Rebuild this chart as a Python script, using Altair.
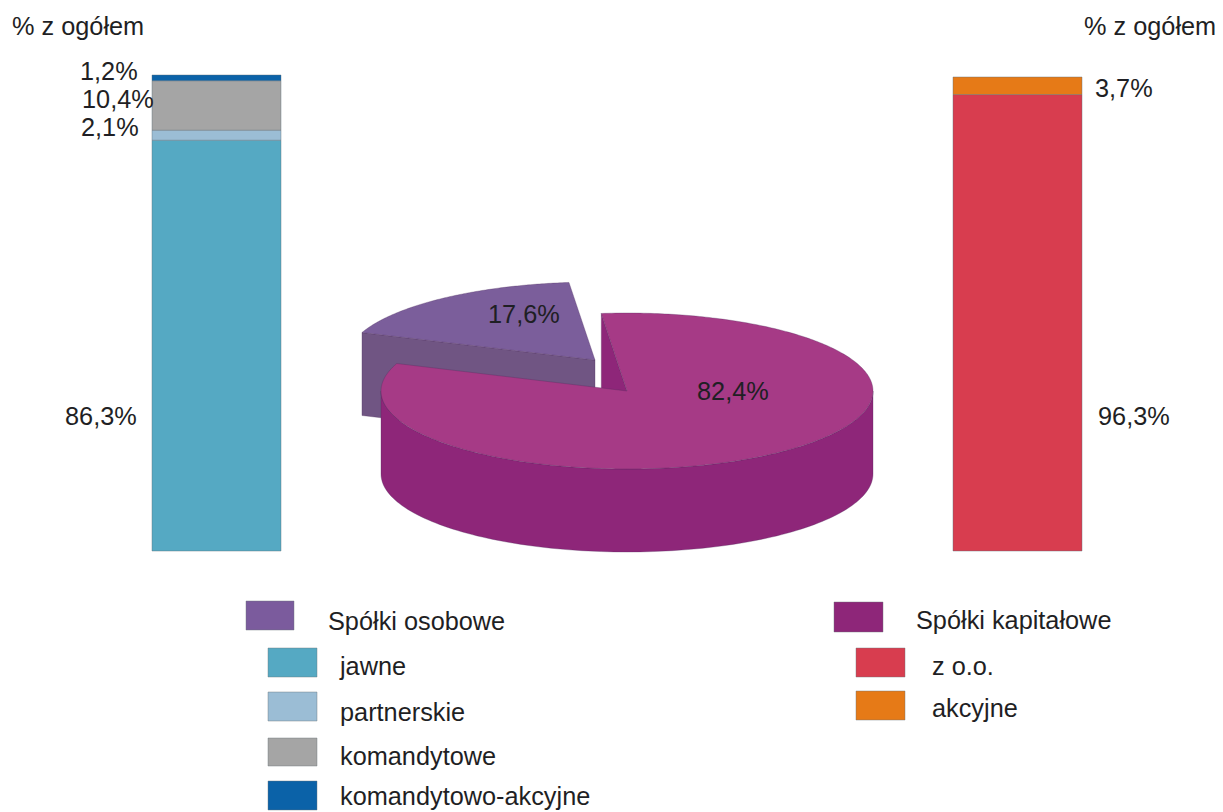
import math
import altair as alt
import pandas as pd

# ---- data
left_categories = ["jawne", "partnerskie", "komandytowe", "komandytowo-akcyjne"]
left_values = [86.3, 2.1, 10.4, 1.2]
left_colors = ["#55a9c3", "#9bbdd5", "#a5a5a5", "#0b62a8"]
right_categories = ["z o.o.", "akcyjne"]
right_values = [96.3, 3.7]
right_colors = ["#d83d4f", "#e67a17"]
pie_categories = ["Spółki osobowe", "Spółki kapitałowe"]
pie_values = [17.6, 82.4]

FONT = "Liberation Sans"
TEXT = "#1f1f24"
M = 8  # page margin
W, H = 1207, 804


def px(v):
    return v - M


def stacked(cats, vals, cols, x0, x1, top, base):
    df = pd.DataFrame({"cat": cats, "val": vals})
    df["end"] = df["val"].cumsum()
    df["start"] = df["end"] - df["val"]
    # y scale: 0 % at `base`, 100 % at `top` (page pixels)
    per = (base - top) / 100
    d0 = -(H - px(base)) / per
    d1 = 100 + px(top) / per
    return alt.Chart(df).mark_bar(stroke="#5f6f78", strokeWidth=0.6, strokeOpacity=0.7).encode(
        x=alt.value(px(x0)),
        x2=alt.value(px(x1)),
        y=alt.Y("start:Q", axis=None, scale=alt.Scale(domain=[d0, d1], nice=False, zero=False)),
        y2="end:Q",
        color=alt.Color("cat:N", legend=None, scale=alt.Scale(domain=cats, range=cols)),
    )


def label(txt, x, base):
    return alt.Chart(pd.DataFrame({"t": [txt]})).mark_text(
        font=FONT, fontSize=25.3, align="left", baseline="alphabetic", color=TEXT
    ).encode(x=alt.value(px(x)), y=alt.value(px(base)), text="t:N")


def swatch(color, x0, x1, y0, y1):
    return alt.Chart(pd.DataFrame({"c": [color]})).mark_rect(
        color=color, stroke="#6d7478", strokeWidth=0.6, strokeOpacity=0.7
    ).encode(x=alt.value(px(x0)), x2=alt.value(px(x1)), y=alt.value(px(y0)), y2=alt.value(px(y1)))


# ---- 3D pie projected from the values
RX, RY, DEPTH = 246, 78, 83
RX_SMALL = 249
MAIN_C = (627, 391)
SMALL_C = (595, 360)
START = 6.0  # degrees counter-clockwise from the top where the small slice begins
sweep = pie_values[0] / sum(pie_values) * 360
END = START + sweep


def pt(c, deg, dy=0, rx=RX):
    # deg: counter-clockwise from the top
    r = math.radians(deg)
    return [px(c[0] - rx * math.sin(r)), px(c[1] - RY * math.cos(r) + dy)]


def arc(c, a, b, dy=0, n=120, rx=RX):
    return [pt(c, a + (b - a) * i / n, dy, rx) for i in range(n + 1)]


def feat(name, ring):
    return {"type": "Feature", "properties": {"n": name},
            "geometry": {"type": "Polygon", "coordinates": [ring + [ring[0]]]}}


def apex(c, dy=0):
    return [px(c[0]), px(c[1] + dy)]


small_side = [pt(SMALL_C, END, rx=RX_SMALL), apex(SMALL_C), apex(SMALL_C, DEPTH), pt(SMALL_C, END, DEPTH, RX_SMALL)]
small_top = [apex(SMALL_C)] + arc(SMALL_C, START, END, rx=RX_SMALL)
main_wall = [pt(MAIN_C, START), apex(MAIN_C), apex(MAIN_C, DEPTH), pt(MAIN_C, START, DEPTH)]
main_side = arc(MAIN_C, 90, 270) + arc(MAIN_C, 270, 90, DEPTH)
main_top = [apex(MAIN_C)] + arc(MAIN_C, END, 360 + START, n=360)

pie_parts = [
    feat("small_side", small_side),
    feat("small_top", small_top),
    feat("main_wall", main_wall),
    feat("main_side", main_side),
    feat("main_top", main_top),
]
part_colors = ["#705583", "#7b5e9b", "#8e2679", "#8e2679", "#a63a86"]

pie_layers = []
for part, color in zip(pie_parts, part_colors):
    pie_layers.append(
        alt.Chart(alt.InlineData(values=[part])).mark_geoshape(
            fill=color, stroke="#4e2a5c", strokeWidth=0.5, strokeOpacity=0.6
        ).project(type="identity", scale=1, translate=[0, 0])
    )

left_bar = stacked(left_categories, left_values, left_colors, 152, 281, 75, 551)
right_bar = stacked(right_categories, right_values, right_colors, 953, 1082, 77, 551)

texts = [
    label("% z ogółem", 12, 35),
    label("% z ogółem", 1084, 35),
    label("1,2%", 80, 80),
    label("10,4%", 82, 108),
    label("2,1%", 81, 136),
    label("86,3%", 65, 425),
    label("3,7%", 1095, 97),
    label("96,3%", 1098, 425),
    label("17,6%", 488, 323),
    label("82,4%", 697, 400),
    label(pie_categories[0], 328, 630),
    label(left_categories[0], 340, 675),
    label(left_categories[1], 340, 721),
    label(left_categories[2], 340, 765),
    label(left_categories[3], 340, 805),
    label(pie_categories[1], 916, 629),
    label(right_categories[0], 932, 675),
    label(right_categories[1], 932, 717),
]
swatches = [
    swatch("#7b5b9d", 246, 294, 601, 630),
    swatch(left_colors[0], 268, 317, 648, 677),
    swatch(left_colors[1], 268, 317, 692, 721),
    swatch(left_colors[2], 268, 317, 738, 766),
    swatch(left_colors[3], 268, 317, 781, 810),
    swatch("#8e2679", 834, 883, 602, 632),
    swatch(right_colors[0], 856, 905, 648, 677),
    swatch(right_colors[1], 856, 905, 691, 720),
]

chart = alt.layer(
    left_bar, right_bar, *pie_layers, *swatches, *texts
).resolve_scale(y="independent", color="independent").properties(
    width=W, height=H, padding=0, background="white",
    autosize=alt.AutoSizeParams(type="none")
).configure_view(strokeWidth=0, stroke="transparent")

chart.save("out.html", embed_options={"renderer": "svg", "actions": False})
